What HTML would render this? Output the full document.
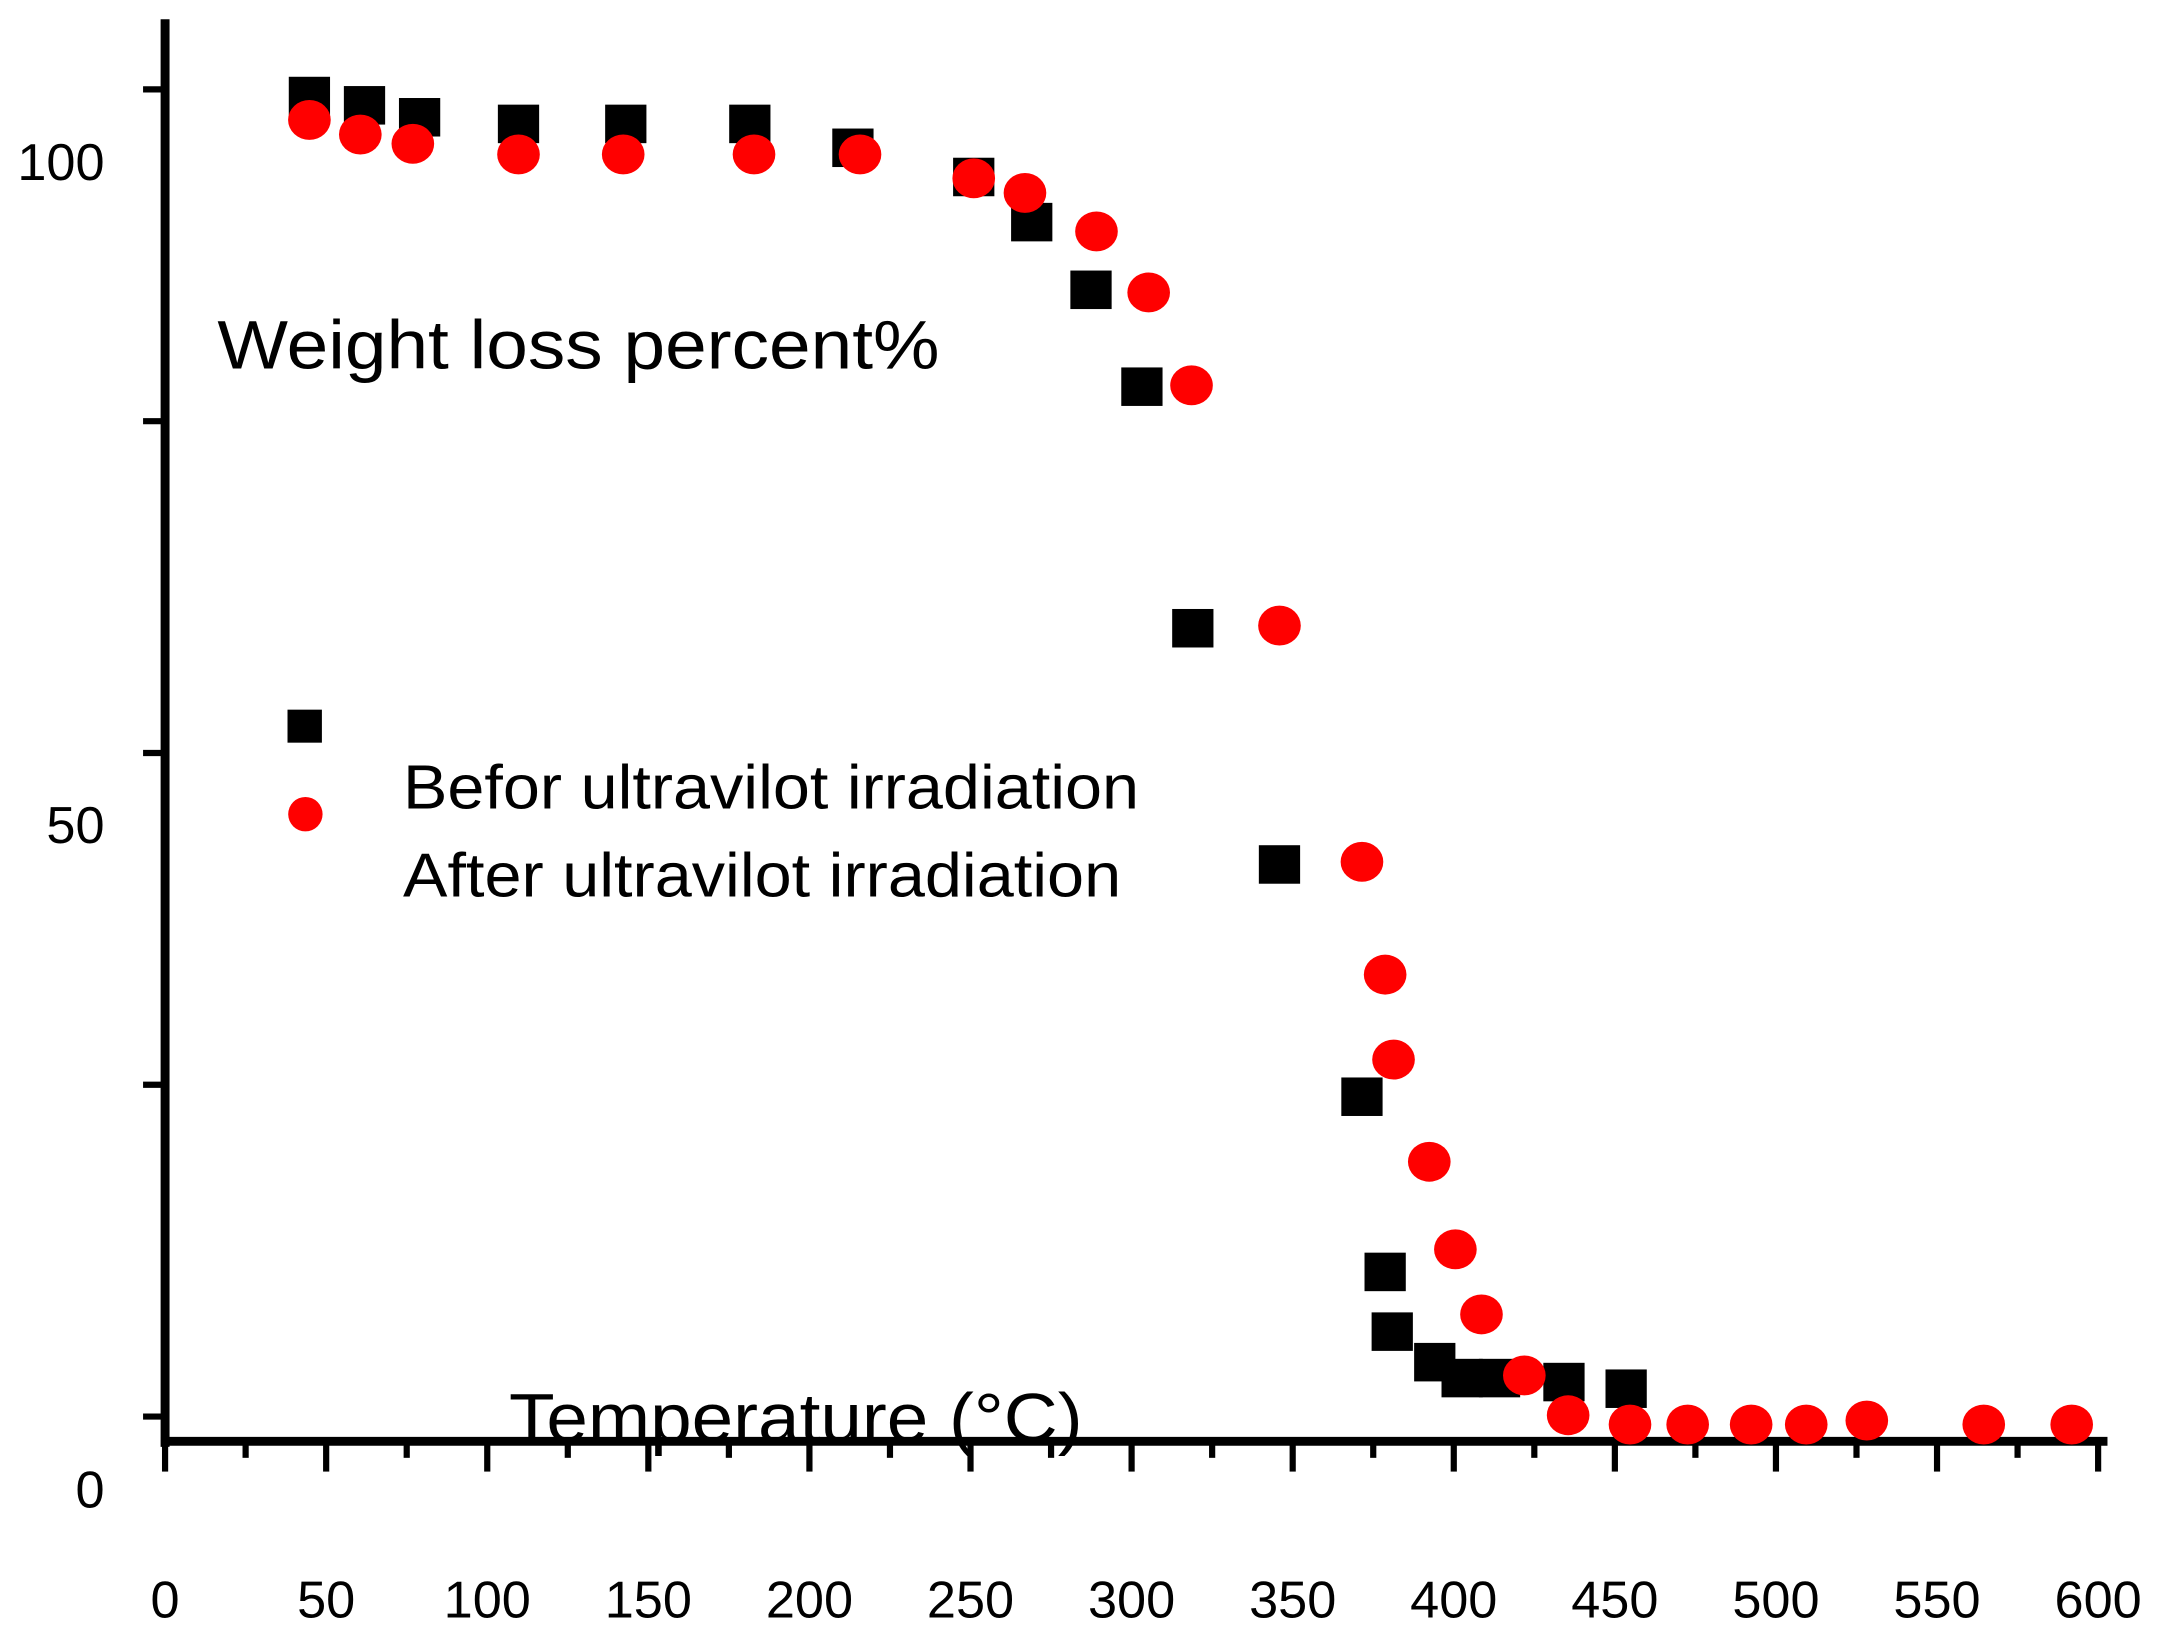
<!DOCTYPE html>
<html><head><meta charset="utf-8"><style>html,body{margin:0;padding:0;background:#fff}svg{display:block}</style></head>
<body>
<svg id="chart" width="2157" height="1638" viewBox="0 0 1568 1191" preserveAspectRatio="none" xmlns="http://www.w3.org/2000/svg" font-family="Liberation Sans, Arial, sans-serif">
<rect width="1568" height="1191" fill="#fff"/>
<g id="axes"></g>
<g id="marks"></g>
<text x="158" y="268" font-size="50" textLength="525" lengthAdjust="spacingAndGlyphs">Weight loss percent%</text>
<text x="370" y="1048" font-size="50" textLength="417" lengthAdjust="spacingAndGlyphs">Temperature (°C)</text>
<rect x="209" y="516" width="25" height="24" fill="#000"/>
<circle cx="222" cy="592" r="12.5" fill="#f00"/>
<text x="293" y="588" font-size="45" textLength="535" lengthAdjust="spacingAndGlyphs">Befor ultravilot irradiation</text>
<text x="293" y="652" font-size="45" textLength="522" lengthAdjust="spacingAndGlyphs">After ultravilot irradiation</text>
</svg>
<script>
const xTicks=[0,50,100,150,200,250,300,350,400,450,500,550,600];
const yTickLabels=["100","50","0"];
const beforeT=[44.8,61.9,79,109.7,143,181.5,213.5,251,269,287.4,303.2,319,345.9,371.5,378.7,380.9,394.1,402.6,414.2,434.2,453.5];
const beforeW=[99.5,98.8,97.9,97.4,97.4,97.4,95.6,93.4,90.0,84.9,77.6,59.4,41.6,24.1,10.9,6.4,4.1,2.9,2.9,2.6,2.1];
const afterT=[44.8,60.6,76.9,109.7,142.2,182.8,215.7,251,266.9,289.1,305.3,318.6,345.9,371.5,378.7,381.3,392.4,400.5,408.6,421.9,435.5,454.7,472.6,492.3,509.4,528.2,564.5,591.8];
const afterW=[97.7,96.6,95.9,95.1,95.1,95.1,95.1,93.3,92.2,89.3,84.7,77.7,59.6,41.8,33.3,26.9,19.2,12.6,7.7,3.1,0.1,-0.6,-0.6,-0.6,-0.6,-0.3,-0.6,-0.6];
const NS="http://www.w3.org/2000/svg";
const X=t=>120+t*2.342, Y=w=>1030-w*9.65;
function mk(tag,attrs,parent,txt){const e=document.createElementNS(NS,tag);for(const k in attrs)e.setAttribute(k,attrs[k]);if(txt!==undefined)e.textContent=txt;parent.appendChild(e);return e;}
const ax=document.getElementById('axes'), mg=document.getElementById('marks');
let e=mk('line',{x1:120,y1:14,x2:120,y2:1052,stroke:'#000','stroke-width':6.5},ax);

e=mk('line',{x1:117,y1:1048,x2:1532,y2:1048,stroke:'#000','stroke-width':6.5},ax);

for(let t=0;t<=600;t+=25){const maj=t%50===0;
 e=mk('line',{x1:X(t),y1:1048,x2:X(t),y2:maj?1070:1060,stroke:'#000','stroke-width':4.5},ax);
 }
xTicks.forEach(t=>{e=mk('text',{x:X(t),y:1176,'font-size':38,'text-anchor':'middle'},ax,String(t));
 });
for(let w=0;w<=100;w+=25){
 e=mk('line',{x1:104,y1:Y(w),x2:120,y2:Y(w),stroke:'#000','stroke-width':4.5},ax);
 }
const yl=[118,600,1083];
yTickLabels.forEach((s,i)=>{e=mk('text',{x:76,y:yl[i]+13,'font-size':38,'text-anchor':'end'},ax,s);
 });
beforeT.forEach((t,i)=>{e=mk('rect',{x:X(t)-15,y:Y(beforeW[i])-14,width:30,height:28,fill:'#000'},mg);
 });
afterT.forEach((t,i)=>{e=mk('ellipse',{cx:X(t),cy:Y(afterW[i]),rx:15.5,ry:14.5,fill:'#f00'},mg);
 });
</script>
</body></html>
